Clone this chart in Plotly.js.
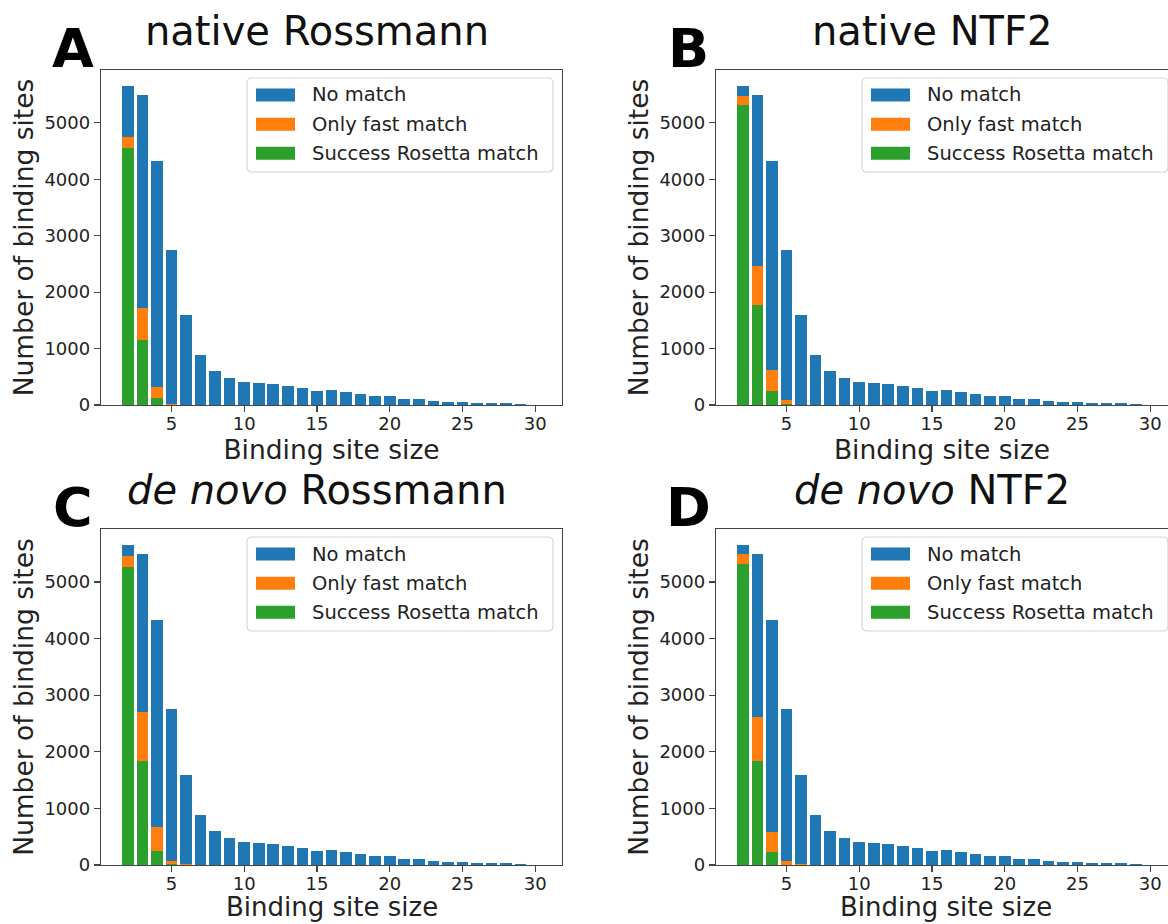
<!DOCTYPE html>
<html>
<head>
<meta charset="utf-8">
<script src="https://cdn.plot.ly/plotly-3.0.1.min.js"></script>
<style>
html,body{margin:0;padding:0;background:#ffffff;overflow:hidden}
#chart{width:1168px;height:924px}
</style>
</head>
<body>
<div id="chart"></div>
<script>
// ---- data ----
const sizes = [2,3,4,5,6,7,8,9,10,11,12,13,14,15,16,17,18,19,20,21,22,23,24,25,26,27,28,29,30];

const panelTitles = ["native Rossmann", "native NTF2", "<i>de novo</i> Rossmann", "<i>de novo</i> NTF2"];
const panelLetters = ["A", "B", "C", "D"];
const seriesNames = ["No match", "Only fast match", "Success Rosetta match"];
const seriesColors = ["#1f77b4", "#ff7f0e", "#2ca02c"];
const xTitle = "Binding site size";
const yTitle = "Number of binding sites";

// Success Rosetta match (green, bottom of stack)
const rosettaA = [4550,1150,125,0,0,0,0,0,0,0,0,0,0,0,0,0,0,0,0,0,0,0,0,0,0,0,0,0,0];
const rosettaB = [5310,1770,253,20,0,0,0,0,0,0,0,0,0,0,0,0,0,0,0,0,0,0,0,0,0,0,0,0,0];
const rosettaC = [5270,1830,241,10,0,0,0,0,0,0,0,0,0,0,0,0,0,0,0,0,0,0,0,0,0,0,0,0,0];
const rosettaD = [5312,1841,235,5,0,0,0,0,0,0,0,0,0,0,0,0,0,0,0,0,0,0,0,0,0,0,0,0,0];

// Only fast match (orange, middle)
const fastA = [205,565,195,15,0,0,0,0,0,0,0,0,0,0,0,0,0,0,0,0,0,0,0,0,0,0,0,0,0];
const fastB = [165,700,371,74,0,0,0,0,0,0,0,0,0,0,0,0,0,0,0,0,0,0,0,0,0,0,0,0,0];
const fastC = [190,876,424,66,10,0,0,0,0,0,0,0,0,0,0,0,0,0,0,0,0,0,0,0,0,0,0,0,0];
const fastD = [176,765,353,71,10,0,0,0,0,0,0,0,0,0,0,0,0,0,0,0,0,0,0,0,0,0,0,0,0];

// No match (blue, top)
const noMatchA = [895,3775,4000,2735,1590,890,595,478,405,382,364,341,300,247,270,229,188,165,165,106,100,76,59,59,41,41,29,18,6];
const noMatchB = [175,3020,3696,2656,1590,890,595,478,405,382,364,341,300,247,270,229,188,165,165,106,100,76,59,59,41,41,29,18,6];
const noMatchC = [190,2784,3655,2674,1580,890,595,478,405,382,364,341,300,247,270,229,188,165,165,106,100,76,59,59,41,41,29,18,6];
const noMatchD = [162,2884,3732,2674,1580,890,595,478,405,382,364,341,300,247,270,229,188,165,165,106,100,76,59,59,41,41,29,18,6];

const xTicks = [5,10,15,20,25,30];
const yTicks = [0,1000,2000,3000,4000,5000];

// ---- layout geometry (pixels) ----
const W = 1168, H = 924;
const FONT = "DejaVu Sans, sans-serif";
const TXT = "#222222";
const AX = "#444444";
const px = v => v / W;
const py = v => 1 - v / H;

const panels = [
  {ax:"", left:101, right:562, top:70, bottom:405, xr:[0.16,31.84], green:rosettaA, orange:fastA, blue:noMatchA},
  {ax:"2", left:716, right:1168, top:70, bottom:405, xr:[0.16,31.22], green:rosettaB, orange:fastB, blue:noMatchB},
  {ax:"3", left:101, right:562, top:529, bottom:865, xr:[0.16,31.84], green:rosettaC, orange:fastC, blue:noMatchC},
  {ax:"4", left:716, right:1168, top:529, bottom:865, xr:[0.16,31.22], green:rosettaD, orange:fastD, blue:noMatchD}
];

const traces = [];
const layout = {
  width: W, height: H,
  margin: {l:0, r:0, t:0, b:0},
  paper_bgcolor: "#ffffff",
  plot_bgcolor: "#ffffff",
  barmode: "stack",
  showlegend: false,
  font: {family: FONT, color: TXT},
  shapes: [],
  annotations: []
};

panels.forEach((p, i) => {
  const xa = "x" + p.ax, ya = "y" + p.ax;
  const stack = [[p.green, 2], [p.orange, 1], [p.blue, 0]];
  stack.forEach(([vals, si]) => {
    traces.push({
      type: "bar", x: sizes, y: vals, width: 0.8,
      name: seriesNames[si],
      marker: {color: seriesColors[si], line: {width: 0}},
      xaxis: xa, yaxis: ya,
      hovertemplate: seriesNames[si] + ": %{y}<extra></extra>"
    });
  });

  const isRight = (i % 2 === 1);
  const isBottom = (i >= 2);
  layout["xaxis" + p.ax] = {
    domain: [px(p.left), px(p.right)],
    anchor: ya,
    range: p.xr,
    tickvals: xTicks,
    ticks: "outside", ticklen: 6, tickwidth: 1.2, tickcolor: AX,
    ticklabelstandoff: -4,
    showline: true, linecolor: AX, linewidth: 1.2, mirror: true,
    showgrid: false, zeroline: false,
    tickfont: {family: FONT, size: 18, color: TXT},
    title: isBottom ? {text: ""} :
      {text: xTitle, font: {family: FONT, size: 26.5, color: TXT}, standoff: 6}
  };
  layout["yaxis" + p.ax] = {
    domain: [py(p.bottom), py(p.top)],
    anchor: xa,
    range: [0, 5935],
    tickvals: yTicks,
    ticks: "outside", ticklen: 6, tickwidth: 1.2, tickcolor: AX,
    showline: true, linecolor: AX, linewidth: 1.2, mirror: isRight ? false : true,
    showgrid: false, zeroline: false,
    tickfont: {family: FONT, size: 18, color: TXT},
    title: {text: yTitle, font: {family: FONT, size: 26.5, color: TXT}, standoff: 3}
  };

  const cxAxes = (p.left + (isRight ? 1177 : p.right)) / 2;
  if (isBottom) {
    // bottom-row x titles sit right at the page edge, as in the reference
    layout.annotations.push({
      xref: "paper", yref: "paper", x: px(cxAxes), y: 0,
      xanchor: "center", yanchor: "bottom", showarrow: false,
      text: xTitle, font: {family: FONT, size: 26, color: TXT}
    });
  }

  // panel title and letter
  layout.annotations.push({
    xref: "paper", yref: "paper", x: px(cxAxes - 15), y: py(p.top - 39),
    xanchor: "center", yanchor: "middle", showarrow: false,
    text: panelTitles[i], font: {family: FONT, size: 40, color: "#111111"}
  });
  layout.annotations.push({
    xref: "paper", yref: "paper", x: px(p.left - 28), y: py(p.top - 22),
    xanchor: "center", yanchor: "middle", showarrow: false,
    text: "<b>" + panelLetters[i] + "</b>", font: {family: FONT, size: 54, color: "#000000"}
  });

  // legend box (matplotlib style)
  const bl = p.left + 146, bt = p.top + 8, bw = 306, bh = 94, r = 5;
  const x0 = bl, x1 = bl + bw, y0 = bt, y1 = bt + bh;
  const P = (x, y) => px(x) + "," + py(y);
  layout.shapes.push({
    type: "path", xref: "paper", yref: "paper",
    path: "M" + P(x0 + r, y0) + " L" + P(x1 - r, y0) + " Q" + P(x1, y0) + " " + P(x1, y0 + r) +
          " L" + P(x1, y1 - r) + " Q" + P(x1, y1) + " " + P(x1 - r, y1) +
          " L" + P(x0 + r, y1) + " Q" + P(x0, y1) + " " + P(x0, y1 - r) +
          " L" + P(x0, y0 + r) + " Q" + P(x0, y0) + " " + P(x0 + r, y0) + " Z",
    fillcolor: "rgba(255,255,255,0.85)", line: {color: "#d6d6d6", width: 1.2}
  });
  const rowY = [bt + 17, bt + 46.3, bt + 75.3];
  seriesNames.forEach((nm, k) => {
    layout.shapes.push({
      type: "rect", xref: "paper", yref: "paper",
      x0: px(bl + 9), x1: px(bl + 48), y0: py(rowY[k] - 6.5), y1: py(rowY[k] + 6.5),
      fillcolor: seriesColors[k], line: {width: 0}
    });
    layout.annotations.push({
      xref: "paper", yref: "paper", x: px(bl + 63), y: py(rowY[k]),
      xanchor: "left", yanchor: "middle", showarrow: false,
      text: nm, font: {family: FONT, size: 19.5, color: TXT}
    });
  });
});

Plotly.newPlot("chart", traces, layout, {displayModeBar: false, staticPlot: true});
</script>
</body>
</html>
